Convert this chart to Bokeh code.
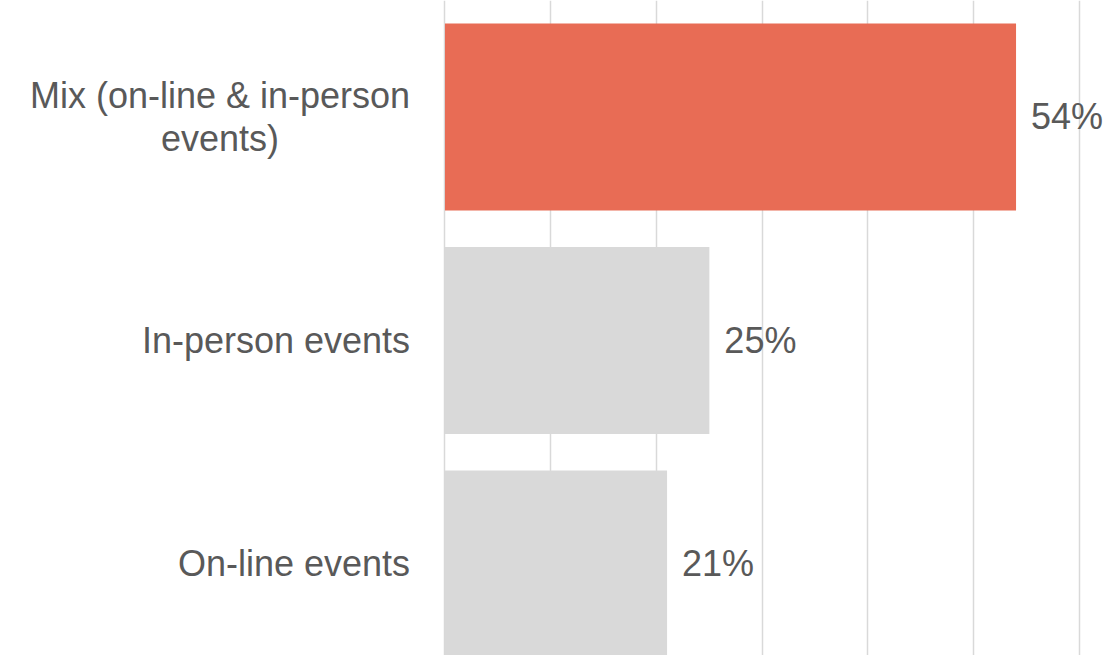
from bokeh.plotting import figure
from bokeh.models import ColumnDataSource, Range1d, FixedTicker
from bokeh.core.properties import value
from bokeh.embed import file_html
from bokeh.resources import INLINE

categories = ["Mix (on-line & in-person\nevents)", "In-person events", "On-line events"]
values = [54, 25, 21]
value_labels = ["54%", "25%", "21%"]
colors = ["#E86C55", "#D9D9D9", "#D9D9D9"]
grid_ticks = [0, 10, 20, 30, 40, 50, 60]

n = len(categories)
ypos = [n - 0.5 - i for i in range(n)]

src = ColumnDataSource(dict(cat=categories, val=values, lab=value_labels,
                            color=colors, y=ypos,
                            lx=[-3.3] * n))

p = figure(width=1103, height=655, output_backend="svg", toolbar_location=None,
           x_range=Range1d(-42.03, 62.27), y_range=Range1d(0.0906, 3.021),
           min_border=0, min_border_left=0, min_border_right=0,
           min_border_top=0, min_border_bottom=0)
p.outline_line_color = None
p.xaxis.visible = False
p.yaxis.visible = False
p.ygrid.grid_line_color = None
p.xgrid.ticker = FixedTicker(ticks=grid_ticks)
p.xgrid.grid_line_color = "#D9D9D9"
p.xgrid.grid_line_width = 1.5

p.hbar(y="y", left=0, right="val", height=0.837, color="color", line_color=None, source=src)

p.text(x="val", y="y", text="lab", x_offset=15, text_align="left", text_baseline="middle",
       text_font=value("Liberation Sans"), text_font_size="36px", text_color="#595959",
       source=src)

p.text(x="lx", y="y", text="cat", anchor=value("center_right"), text_align="center",
       text_baseline="middle", text_line_height=1.07,
       text_font=value("Liberation Sans"), text_font_size="36px", text_color="#595959",
       source=src)

open("out.html", "w").write(file_html(p, INLINE))
